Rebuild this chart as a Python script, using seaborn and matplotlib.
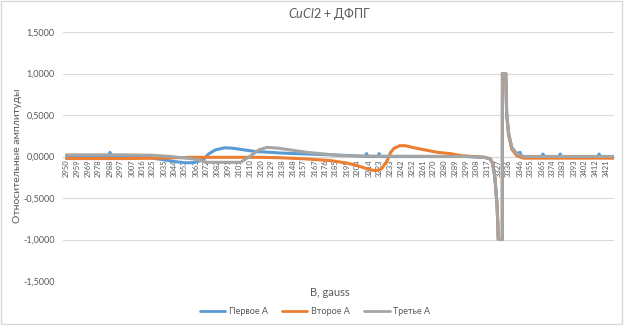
import numpy as np
import pandas as pd
import matplotlib
matplotlib.use("Agg")
import matplotlib.pyplot as plt
import seaborn as sns
from matplotlib.lines import Line2D
from matplotlib.patches import Rectangle

# ---------------- data ----------------
tick_labels = [2950, 2959, 2969, 2978, 2988, 2997, 3007, 3016, 3025, 3035, 3044,
               3053, 3063, 3072, 3082, 3091, 3101, 3110, 3120, 3129, 3138, 3148,
               3157, 3167, 3176, 3185, 3195, 3204, 3214, 3223, 3233, 3242, 3252,
               3261, 3270, 3280, 3289, 3299, 3308, 3317, 3327, 3336, 3346, 3355,
               3365, 3374, 3383, 3393, 3402, 3412, 3421]

b_first = [2950, 2970, 2987, 2988, 2989, 3005, 3016, 3025, 3035, 3044, 3053, 3060,
           3065, 3070, 3074, 3080, 3088, 3095, 3105, 3115, 3128, 3140, 3160, 3181,
           3200, 3211, 3212, 3213, 3222, 3223, 3224, 3230, 3260, 3300, 3315, 3320,
           3322, 3324, 3326, 3327, 3330.5, 3330.6, 3333.5, 3334.3, 3336, 3338.7,
           3343, 3346, 3347, 3349, 3365, 3366, 3367, 3380, 3381, 3382, 3414, 3415,
           3416, 3428]
v_first = [0.01, 0.01, 0.01, 0.05, 0.01, 0.01, 0.0, -0.02, -0.04, -0.06, -0.075,
           -0.075, -0.06, -0.03, 0.03, 0.08, 0.105, 0.10, 0.08, 0.06, 0.05, 0.04,
           0.03, 0.02, 0.01, 0.0, 0.035, 0.0, 0.0, 0.035, 0.0, 0.0, 0.0, 0.0, -0.01,
           -0.03, -0.08, -0.25, -0.6, -1.0, -1.0, 1.0, 1.0, 0.52, 0.28, 0.11, 0.035,
           0.05, 0.01, 0.0, 0.0, 0.03, 0.0, 0.0, 0.03, 0.0, 0.0, 0.03, 0.0, 0.0]

b_second = [2950, 3000, 3030, 3060, 3090, 3120, 3137, 3160, 3181, 3195, 3204, 3215,
            3220, 3225, 3230, 3233, 3236, 3241, 3246, 3252, 3259, 3274, 3285, 3295,
            3305, 3315, 3320, 3322, 3324, 3326, 3327, 3330.5, 3330.6, 3333.5,
            3334.3, 3336, 3338.7, 3343, 3349, 3428]
v_second = [-0.025, -0.025, -0.02, -0.01, -0.01, -0.01, -0.015, -0.03, -0.05,
            -0.08, -0.11, -0.16, -0.17, -0.15, -0.05, 0.05, 0.10, 0.13, 0.13, 0.11,
            0.09, 0.05, 0.035, 0.01, 0.0, -0.01, -0.03, -0.08, -0.25, -0.6, -1.0,
            -1.0, 1.0, 1.0, 0.50, 0.26, 0.09, 0.01, -0.02, -0.02]

b_third = [2950, 3000, 3025, 3041, 3061, 3073, 3090, 3102, 3110, 3118, 3125, 3135,
           3145, 3160, 3175, 3190, 3210, 3300, 3315, 3320, 3322, 3324, 3326, 3327,
           3330.5, 3330.6, 3333.5, 3334.3, 3336, 3338.7, 3343, 3349, 3428]
v_third = [0.02, 0.02, 0.015, 0.0, -0.03, -0.07, -0.07, -0.07, 0.0, 0.08, 0.11,
           0.10, 0.08, 0.05, 0.03, 0.01, 0.005, 0.0, -0.01, -0.03, -0.08, -0.25,
           -0.6, -1.0, -1.0, 1.0, 1.0, 0.52, 0.28, 0.11, 0.035, 0.0, 0.0]

series_names = ["Первое А", "Второе А", "Третье А"]
colors = ["#5B9BD5", "#ED7D31", "#A5A5A5"]
y_ticks = [1.5, 1.0, 0.5, 0.0, -0.5, -1.0, -1.5]

# ---------------- frame ----------------
df = pd.concat([
    pd.DataFrame({"B": b_first, "A": v_first, "s": series_names[0]}),
    pd.DataFrame({"B": b_second, "A": v_second, "s": series_names[1]}),
    pd.DataFrame({"B": b_third, "A": v_third, "s": series_names[2]}),
], ignore_index=True)

sns.set_theme(style="white")
plt.rcParams["font.family"] = ["Lato", "DejaVu Sans"]
plt.rcParams["mathtext.fontset"] = "custom"
plt.rcParams["mathtext.it"] = "Lato:italic"
plt.rcParams["mathtext.rm"] = "Lato"

W, H = 624, 325
fig = plt.figure(figsize=(W / 100, H / 100), dpi=100)
ax = fig.add_axes([63 / W, 1 - 281 / H, (614 - 63) / W, (281 - 32) / H])

sns.lineplot(data=df, x="B", y="A", hue="s", palette=colors, estimator=None,
             sort=False, linewidth=2.2, ax=ax, legend=False)

for side in ["left", "right", "top"]:
    ax.spines[side].set_visible(False)
ax.spines["bottom"].set_position(("data", 0))
ax.spines["bottom"].set_color("#BFBFBF")
ax.spines["bottom"].set_linewidth(0.8)
ax.spines["bottom"].set_zorder(0.5)

ax.set_xlim(2947, 3428)
ax.set_ylim(-1.5, 1.5)
ax.set_yticks(y_ticks)
ax.set_yticklabels([f"{v:.4f}".replace(".", ",") for v in y_ticks],
                   fontsize=6.5, color="#595959")
ax.yaxis.grid(True, color="#D9D9D9", linewidth=0.8)
ax.xaxis.grid(False)
ax.set_axisbelow(True)

ax.set_xticks(tick_labels)
ax.set_xticklabels([str(t) for t in tick_labels], rotation=90, fontsize=5.5,
                   color="#595959")
ax.tick_params(axis="x", length=0, pad=2)
ax.tick_params(axis="y", length=0, pad=6)

ax.set_xlabel("")
ax.set_ylabel("")
fig.text(18 / W, 1 - 156 / H, "Относительные амплитуды", rotation=90,
         ha="center", va="center", fontsize=7.5, color="#595959")
fig.text(330 / W, 1 - 293 / H, "B, gauss", ha="center", va="center",
         fontsize=8, color="#595959")
fig.text(330 / W, 1 - 14 / H, r"$\mathit{CuCl2}$ + ДФПГ", ha="center",
         va="center", fontsize=9, color="#595959")

# legend
handles = [Line2D([0], [0], color=c, lw=2) for c in colors]
fig.legend(handles, series_names, loc="center", bbox_to_anchor=(315 / W, 1 - 312 / H),
           ncol=3, frameon=False, fontsize=6.5, handlelength=2.8,
           columnspacing=1.6, handletextpad=0.4, labelcolor="#595959")

# chart border
fig.patches.append(Rectangle((0.002, 0.003), 0.994, 0.993, transform=fig.transFigure,
                             fill=False, edgecolor="#D9D9D9", linewidth=1))

fig.savefig("out.png", dpi=100)
